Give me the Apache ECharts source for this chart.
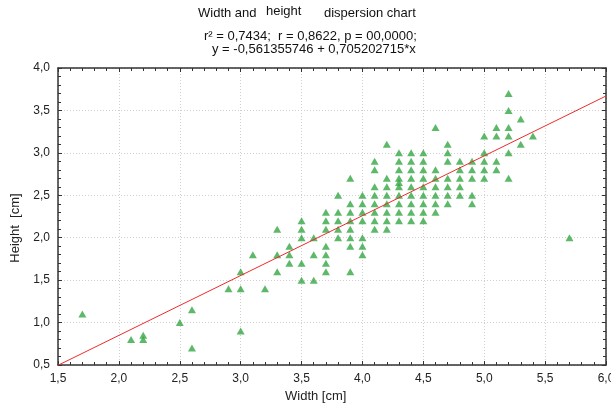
<!DOCTYPE html>
<html>
<head>
<meta charset="utf-8">
<script src="https://cdn.jsdelivr.net/npm/echarts@6/dist/echarts.min.js"></script>
<style>
  html, body { margin: 0; padding: 0; background: #fff; }
  #chart { width: 611px; height: 409px; }
</style>
</head>
<body>
<div id="chart"></div>
<script>
// Width / height measurements (cm), one entry per specimen
const widthCm = [
  1.7,
  2.1,
  2.2, 2.2,
  2.5,
  2.6, 2.6,
  2.9,
  3.0, 3.0, 3.0,
  3.1,
  3.2,
  3.3, 3.3, 3.3,
  3.4, 3.4, 3.4,
  3.5, 3.5, 3.5, 3.5, 3.5,
  3.6, 3.6, 3.6,
  3.7, 3.7, 3.7, 3.7, 3.7, 3.7, 3.7,
  3.8, 3.8, 3.8, 3.8, 3.8,
  3.9, 3.9, 3.9, 3.9, 3.9, 3.9, 3.9, 3.9,
  4.0, 4.0, 4.0, 4.0, 4.0, 4.0, 4.0,
  4.1, 4.1, 4.1, 4.1, 4.1, 4.1, 4.1, 4.1,
  4.2, 4.2, 4.2, 4.2, 4.2, 4.2, 4.2, 4.2,
  4.3, 4.3, 4.3, 4.3, 4.3, 4.3, 4.3, 4.3, 4.3, 4.3,
  4.4, 4.4, 4.4, 4.4, 4.4, 4.4, 4.4, 4.4, 4.4,
  4.5, 4.5, 4.5, 4.5, 4.5, 4.5, 4.5, 4.5, 4.5,
  4.6, 4.6, 4.6, 4.6, 4.6, 4.6, 4.6,
  4.7, 4.7, 4.7, 4.7, 4.7, 4.7, 4.7,
  4.8, 4.8, 4.8, 4.8, 4.8,
  4.9, 4.9, 4.9, 4.9, 4.9,
  5.0, 5.0, 5.0, 5.0, 5.0,
  5.1, 5.1, 5.1, 5.1,
  5.2, 5.2, 5.2, 5.2, 5.2, 5.2,
  5.3, 5.3,
  5.4,
  5.7
];
const heightCm = [
  1.1,
  0.8,
  0.8, 0.85,
  1.0,
  1.15, 0.7,
  1.4,
  1.6, 1.4, 0.9,
  1.8,
  1.4,
  2.1, 1.8, 1.6,
  1.9, 1.8, 1.7,
  2.2, 2.1, 2.0, 1.7, 1.5,
  2.0, 1.8, 1.5,
  2.3, 2.2, 2.1, 1.9, 1.8, 1.7, 1.6,
  2.5, 2.3, 2.2, 2.1, 2.0,
  2.7, 2.4, 2.3, 2.2, 2.1, 2.0, 1.9, 1.6,
  2.5, 2.4, 2.3, 2.2, 2.0, 1.9, 1.8,
  2.9, 2.8, 2.6, 2.5, 2.4, 2.3, 2.2, 2.1,
  3.1, 2.7, 2.6, 2.5, 2.4, 2.3, 2.2, 2.1,
  3.0, 2.9, 2.8, 2.7, 2.65, 2.6, 2.5, 2.4, 2.3, 2.2,
  3.0, 2.9, 2.8, 2.7, 2.6, 2.5, 2.4, 2.3, 2.2,
  3.0, 2.9, 2.8, 2.7, 2.6, 2.5, 2.4, 2.3, 2.2,
  3.3, 2.8, 2.7, 2.6, 2.5, 2.4, 2.3,
  3.1, 3.0, 2.9, 2.7, 2.6, 2.5, 2.4,
  2.9, 2.8, 2.7, 2.6, 2.5,
  2.9, 2.8, 2.7, 2.5, 2.4,
  3.2, 3.0, 2.9, 2.8, 2.7,
  3.3, 3.2, 2.9, 2.8,
  3.7, 3.5, 3.3, 3.2, 3.0, 2.7,
  3.4, 3.1,
  3.2,
  2.0
];

// Fitted regression: y = a + b*x
const fitIntercept = -0.561355746;
const fitSlope = 0.705202715;

// Axis ranges
const xRange = [1.5, 6.0];
const yRange = [0.5, 4.0];

const titleLines = [
  'Width and', 'height', 'dispersion chart',
  'r\u00B2 = 0,7434;  r = 0,8622, p = 00,0000;',
  'y = -0,561355746 + 0,705202715*x'
];

const FONT = '"Liberation Sans", Arial, sans-serif';
const AXIS_COLOR = '#333';
const fmt = v => v.toFixed(1).replace('.', ',');

const points = widthCm.map((w, i) => [w, heightCm[i]]);
const fitLine = xRange.map(x => [x, fitIntercept + fitSlope * x]);

function axisPair(kind, range) {
  const main = {
    type: 'value',
    min: range[0], max: range[1], interval: 0.5,
    position: kind === 'x' ? 'bottom' : 'left',
    axisLine: { show: true, onZero: false, lineStyle: { color: AXIS_COLOR, width: 1.5 } },
    axisTick: { show: true, inside: true, length: 4, lineStyle: { color: AXIS_COLOR } },
    minorTick: { show: true, splitNumber: 5, length: 3, lineStyle: { color: AXIS_COLOR } },
    axisLabel: { formatter: fmt, color: '#222', fontSize: 12, fontFamily: FONT, margin: 8 },
    splitLine: { show: true, lineStyle: { type: [1, 2], color: '#cfcfcf', width: 1 } }
  };
  const opposite = {
    type: 'value',
    min: range[0], max: range[1], interval: 0.5,
    position: kind === 'x' ? 'top' : 'right',
    axisLine: { show: true, onZero: false, lineStyle: { color: AXIS_COLOR, width: 1.5 } },
    axisTick: { show: true, inside: true, length: 4, lineStyle: { color: AXIS_COLOR } },
    minorTick: { show: true, splitNumber: 5, length: 3, lineStyle: { color: AXIS_COLOR } },
    axisLabel: { show: false },
    splitLine: { show: false }
  };
  return [main, opposite];
}

const chart = echarts.init(document.getElementById('chart'), null, { renderer: 'canvas' });

const titleFont = '13px ' + FONT;

chart.setOption({
  animation: false,
  backgroundColor: '#fff',
  grid: { left: 58, right: 5, top: 68, bottom: 44, outerBoundsMode: 'none' },
  xAxis: axisPair('x', xRange),
  yAxis: axisPair('y', yRange),
  graphic: [
    { type: 'text', left: 198, top: 7, style: { text: titleLines[0], font: titleFont, fill: '#111' } },
    { type: 'text', left: 266, top: 5, style: { text: titleLines[1], font: titleFont, fill: '#111' } },
    { type: 'text', left: 324, top: 7, style: { text: titleLines[2], font: titleFont, fill: '#111' } },
    { type: 'text', left: 204, top: 30, style: { text: titleLines[3], font: titleFont, fill: '#111' } },
    { type: 'text', left: 212, top: 43, style: { text: titleLines[4], font: titleFont, fill: '#111' } },
    { type: 'text', left: 285, top: 390, style: { text: 'Width [cm]', font: titleFont, fill: '#222' } },
    { type: 'text', x: 15, y: 228, rotation: Math.PI / 2,
      style: { text: 'Height  [cm]', font: titleFont, fill: '#222', align: 'center', verticalAlign: 'middle' } }
  ],
  series: [
    {
      type: 'scatter',
      xAxisIndex: 0, yAxisIndex: 0,
      data: points,
      symbol: 'triangle',
      symbolSize: [8, 7],
      itemStyle: { color: '#34a844' },
      silent: true,
      z: 2
    },
    {
      type: 'line',
      xAxisIndex: 0, yAxisIndex: 0,
      data: fitLine,
      showSymbol: false,
      lineStyle: { color: '#ee2b2b', width: 1 },
      silent: true,
      z: 3
    }
  ]
});
</script>
</body>
</html>
